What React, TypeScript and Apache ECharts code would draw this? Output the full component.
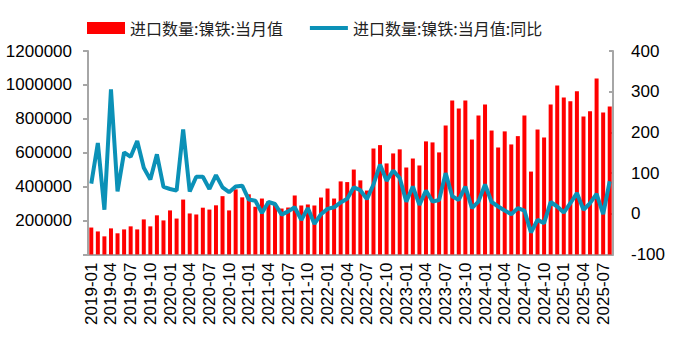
import React, { useEffect, useRef } from "react";
import * as echarts from "echarts";

const years = ["2019", "2020", "2021", "2022", "2023", "2024", "2025"];
const months = ["01", "02", "03", "04", "05", "06", "07", "08", "09", "10", "11", "12"];
const categories: string[] = [];
for (const y of years) {
  for (const m of months) {
    if (y === "2025" && Number(m) > 8) break;
    categories.push(`${y}-${m}`);
  }
}

const importVolume = [
  159000, 136000, 107000, 154000, 125000, 148000, 166000, 148000, 207000, 166000,
  231000, 201000, 260000, 212000, 324000, 242000, 236000, 276000, 265000, 290000,
  344000, 260000, 384000, 337000, 355000, 282000, 330000, 314000, 300000, 271000,
  277000, 348000, 289000, 295000, 289000, 336000, 389000, 330000, 431000, 427000,
  501000, 437000, 377000, 625000, 645000, 537000, 596000, 620000, 513000, 566000,
  525000, 667000, 661000, 602000, 761000, 908000, 861000, 908000, 678000, 820000,
  885000, 731000, 631000, 726000, 649000, 698000, 820000, 489000, 737000, 690000,
  885000, 997000, 926000, 903000, 962000, 814000, 844000, 1038000, 838000, 873000,
];

const yoy = [
  74, 174, 10, 306, 55, 151, 140, 179, 113, 84,
  146, 66, 61, 57, 207, 55, 91, 91, 61, 95,
  65, 53, 67, 69, 35, 32, 2, 29, 24, -2,
  6, 16, -15, 14, -25, -1, 12, 16, 28, 37,
  65, 58, 36, 72, 121, 81, 106, 88, 30, 67,
  22, 57, 30, 34, 100, 43, 34, 67, 14, 30,
  72, 29, 18, 8, -1, 14, 8, -46, -15, -23,
  29, 18, 3, 26, 51, 10, 26, 49, -1, 80,
];

const seriesNames = ["进口数量:镍铁:当月值", "进口数量:镍铁:当月值:同比"];

export default function App() {
  const ref = useRef<HTMLDivElement>(null);
  useEffect(() => {
    document.body.style.margin = "0";
    const chart = echarts.init(ref.current!, undefined, { renderer: "svg" });
    const axisColor = "#A6A6A6";
    chart.setOption({
      animation: false,
      legend: {
        left: 87,
        top: 20,
        padding: 0,
        itemWidth: 38,
        itemHeight: 12,
        itemGap: 27,
        textStyle: { fontFamily: "Noto Sans CJK SC", fontSize: 16, color: "#222" },
        data: [
          { name: seriesNames[0], icon: "rect" },
          { name: seriesNames[1], icon: "path://M0,0 L40,0 L40,4 L0,4 Z" },
        ],
      },
      grid: { left: 88, right: 61, top: 51, bottom: 102.5 },
      xAxis: {
        type: "category",
        data: categories,
        boundaryGap: true,
        axisLine: { lineStyle: { color: axisColor, width: 2 } },
        axisTick: { interval: 2, length: 5, lineStyle: { color: axisColor, width: 2 } },
        axisLabel: {
          interval: 2,
          rotate: 90,
          margin: 8,
          color: "#000",
          fontSize: 17,
          fontFamily: "Liberation Sans",
        },
      },
      yAxis: [
        {
          type: "value",
          min: 0,
          max: 1200000,
          interval: 200000,
          splitLine: { show: false },
          axisLine: { show: true, lineStyle: { color: axisColor, width: 2 } },
          axisTick: { show: true, length: 5, lineStyle: { color: axisColor, width: 2 } },
          axisLabel: {
            color: "#000",
            fontSize: 17,
            fontFamily: "Liberation Sans",
            margin: 16,
            formatter: (v: number) => (v === 0 ? "" : String(v)),
          },
        },
        {
          type: "value",
          min: -100,
          max: 400,
          interval: 100,
          splitLine: { show: false },
          axisLine: { show: true, lineStyle: { color: axisColor, width: 2 } },
          axisTick: { show: true, inside: true, length: 4, lineStyle: { color: axisColor, width: 2 } },
          axisLabel: {
            color: "#000",
            fontSize: 17,
            fontFamily: "Liberation Sans",
            margin: 18,
          },
        },
      ],
      series: [
        {
          name: seriesNames[0],
          type: "bar",
          yAxisIndex: 0,
          data: importVolume,
          barWidth: 4,
          itemStyle: { color: "#FF0000" },
        },
        {
          name: seriesNames[1],
          type: "line",
          yAxisIndex: 1,
          data: yoy,
          symbol: "none",
          lineStyle: { color: "#0B91B7", width: 4 },
          itemStyle: { color: "#0B91B7" },
        },
      ],
    });
    return () => chart.dispose();
  }, []);
  return <div ref={ref} style={{ width: 674, height: 357 }} />;
}
